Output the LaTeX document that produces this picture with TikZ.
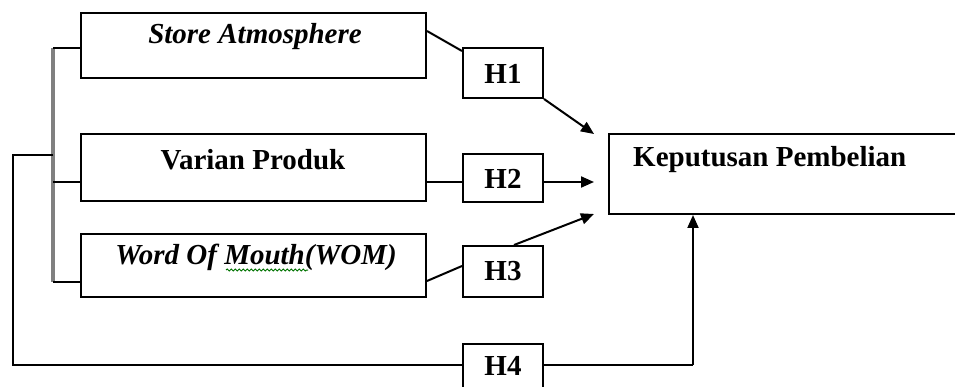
\documentclass[tikz,border=0pt]{standalone}
\usepackage{fontspec}
\setmainfont{Liberation Serif}
\usetikzlibrary{arrows.meta,decorations.pathmorphing,calc}
\begin{document}
\begin{tikzpicture}[x=1pt,y=-1pt,
  box/.style={draw=black,line width=2pt,inner sep=0pt,fill=white},
  lbl/.style={font=\fontsize{29}{31}\selectfont\bfseries,inner sep=0pt,anchor=center},
  bilbl/.style={font=\fontsize{29}{31}\selectfont\bfseries\itshape,inner sep=0pt,anchor=center},
  link/.style={draw=black,line width=2pt},
  arr/.style={draw=black,line width=2pt,-{Triangle[length=13pt,width=11pt]}},
  tree/.style={draw=gray,line width=3.5pt}
]
\useasboundingbox (0,0) rectangle (955,387);
\clip (0,0) rectangle (955,387);
\fill[white] (0,0) rectangle (955,387);

% boxes
\node[box,minimum width=345pt,minimum height=65pt] (sa) at (253.5,45.5) {};
\node[box,minimum width=345pt,minimum height=67pt] (vp) at (253.5,167.5) {};
\node[box,minimum width=345pt,minimum height=63pt] (wom) at (253.5,265.5) {};
\node[box,minimum width=80pt,minimum height=50pt] (h1) at (503,73) {};
\node[box,minimum width=80pt,minimum height=48pt] (h2) at (503,178) {};
\node[box,minimum width=80pt,minimum height=51pt] (h3) at (503,271.5) {};
\node[box,minimum width=80pt,minimum height=56pt] (h4) at (503,372) {};
\node[box,minimum width=360pt,minimum height=80pt] (kp) at (789,174) {};

% labels
\node[bilbl] (tsa) at (255,37) {Store Atmosphere};
\node[lbl] (tvp) at (253,160) {Varian Produk};
\node[bilbl] (twom) at (256,257) {Word Of Mouth(WOM)};
\node[lbl,anchor=west] (tkp) at (633,160) {Keputusan Pembelian};
\node[lbl] (th1) at (503,74) {H1};
\node[lbl] (th2) at (503,179) {H2};
\node[lbl] (th3) at (503,271) {H3};
\node[lbl] (th4) at (503,366) {H4};

% spell-check underline under "Mouth"
\draw[green!45!black,line width=1pt,decorate,decoration={snake,amplitude=1pt,segment length=4pt}] (226,270) -- (308,270);

% left tree
\coordinate (ta) at (53,48);
\coordinate (tb) at (53,282);
\draw[tree] (ta) -- (tb);
\draw[link] (ta) -- (sa.west |- ta);
\draw[link] (53,182) -- (vp.west |- 0,182);
\draw[link] (tb) -- (wom.west |- tb);

% outer loop to H4
\coordinate (o1) at (13,155);
\coordinate (o2) at (13,365);
\coordinate (o3) at (693,365);
\draw[link] (53,155) -- (o1) -- (o2) -- (h4.west |- o2);
\draw[link] (h4.east |- o3) -- (o3);
\draw[arr] (o3) -- (o3 |- kp.south);

% connectors to H boxes
\draw[link] ($(sa.north east)+(0,19)$) -- ($(h1.north west)+(0,4)$);
\draw[link] (vp.east |- 0,182) -- (h2.west |- 0,182);
\draw[link] ($(wom.south east)+(0,-17)$) -- ($(h3.north west)+(0,21)$);

% arrows to Keputusan
\coordinate (k1) at (594,134);
\coordinate (k2) at (594,182);
\coordinate (k3) at (594,214);
\draw[arr] (h1.south east) -- (k1);
\draw[arr] (h2.east |- k2) -- (k2);
\draw[arr] ($(h3.north west)+(52,0)$) -- (k3);
\end{tikzpicture}
\end{document}
